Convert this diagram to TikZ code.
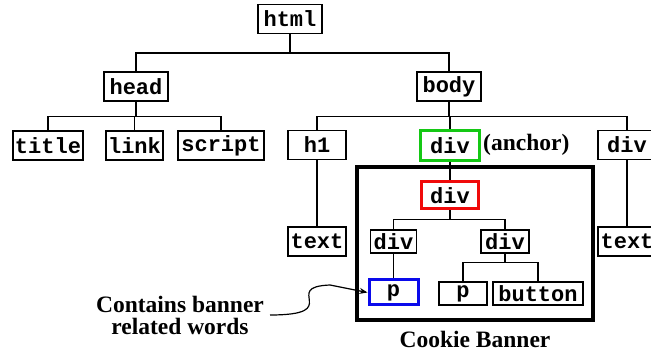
\documentclass[tikz,border=0pt]{standalone}
\usepackage{fontspec}
\setmainfont{Liberation Serif}
\newfontfamily\monofont{Liberation Mono}
\usetikzlibrary{arrows.meta}
\definecolor{ggreen}{RGB}{20,200,20}
\definecolor{rred}{RGB}{240,10,10}
\definecolor{bblue}{RGB}{10,10,235}
\begin{document}
\begin{tikzpicture}[x=1pt,y=-1pt,
  tag/.style={draw, line width=1.2pt, inner sep=1pt, minimum height=29pt,
    font=\monofont\bfseries\fontsize{22}{24}\selectfont},
  itag/.style={tag, minimum height=23pt},
  edge/.style={line width=1.2pt},
  note/.style={font=\bfseries\fontsize{23.5}{24}\selectfont, inner sep=0pt, align=center}]
\useasboundingbox (0,0) rectangle (651,352);
\fill[white] (0,0) rectangle (651,352);
% outer tree
\node[tag, minimum width=64pt] (html) at (290,19) {html};
\node[tag, minimum width=64pt] (head) at (136,86.5) {head};
\node[tag, minimum width=64pt] (body) at (449,86.5) {body};
\node[tag, minimum width=70pt] (title) at (48,145.5) {title};
\node[tag, minimum width=57pt] (link) at (134.5,145.5) {link};
\node[tag, minimum width=86pt] (script) at (221,145.5) {script};
\node[tag, minimum width=58pt] (h1) at (317,145) {h1};
\node[tag, minimum width=59pt, minimum height=30pt, draw=ggreen, line width=3pt] (gdiv) at (450,145.5) {div};
\node[note, anchor=west] (anchor) at (483,145) {(anchor)};
\node[tag, minimum width=58pt] (div3) at (627,145) {div};
\node[tag, minimum width=58pt] (text1) at (317,241.5) {text};
\node[tag, minimum width=58pt] (text3) at (627,241.5) {text};
% banner
\node[draw, line width=4pt, minimum width=236pt, minimum height=153pt, inner sep=0pt] (banner) at (475,243.5) {};
\node[note] (cb) at (475,339) {Cookie Banner};
\node[tag, minimum width=57pt, minimum height=27pt, draw=rred, line width=3pt] (rdiv) at (450,195.5) {div};
\node[itag, minimum width=46pt] (ldiv) at (393.5,241.5) {div};
\node[itag, minimum width=48pt] (rdivb) at (505,241.5) {div};
\node[itag, minimum width=49pt, minimum height=25pt, draw=bblue, line width=3pt] (bp) at (393.5,292.5) {p};
\node[itag, minimum width=48pt] (p2) at (463,293.5) {p};
\node[itag, minimum width=90pt] (button) at (538,293.5) {button};
% note
\node[note] (contains) at (180,315) {Contains banner\\[-2pt]related words};
\coordinate (cstart) at (270,315);
% edges
\draw[edge] (html.south) -- ++(0,19) -| (head.north);
\draw[edge] (html.south) -- ++(0,19) -| (body.north);
\draw[edge] (head.south) -- ++(0,15) -| (title.north);
\draw[edge] (head.south) -- ++(0,15) -| (link.north);
\draw[edge] (head.south) -- ++(0,15) -| (script.north);
\draw[edge] (body.south) -- ++(0,15) -| (h1.north);
\draw[edge] (body.south) -- ++(0,15) -| (gdiv.north);
\draw[edge] (body.south) -- ++(0,15) -| (div3.north);
\draw[edge] (h1.south) -- (text1.north);
\draw[edge] (div3.south) -- (text3.north);
\draw[edge] (gdiv.south) -- (rdiv.north);
\draw[edge] (rdiv.south) -- ++(0,9) -| (ldiv.north);
\draw[edge] (rdiv.south) -- ++(0,9) -| (rdivb.north);
\draw[edge] (ldiv.south) -- (bp.north);
\draw[edge] (rdivb.south) -- ++(0,9) -| (p2.north);
\draw[edge] (rdivb.south) -- ++(0,9) -| (button.north);
\draw[edge, -{Stealth[length=8pt,width=6pt]}] (cstart) .. controls (345,315) and (280,287) .. (330,285) -- (bp.west);
\end{tikzpicture}
\end{document}
